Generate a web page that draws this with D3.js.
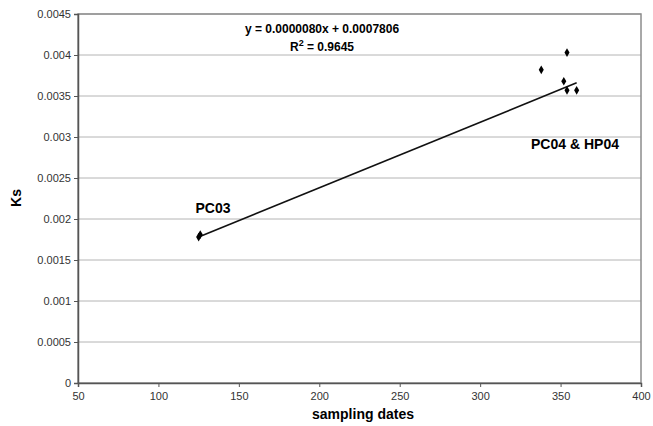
<!DOCTYPE html>
<html>
<head>
<meta charset="utf-8">
<script src="https://cdn.jsdelivr.net/npm/d3@7"></script>
<style>
  body { margin: 0; background: #fff; }
  text { font-family: "Liberation Sans", Arial, sans-serif; }
</style>
</head>
<body>
<svg id="chart" width="653" height="426"></svg>
<script>
// sampling date, Ks
var samplingDates = [125, 126, 338, 354, 352, 354, 360];
var ksValues = [0.00178, 0.00181, 0.00382, 0.00403, 0.00368, 0.00357, 0.00357];
var xTicks = [50, 100, 150, 200, 250, 300, 350, 400];
var yTicks = [0, 0.0005, 0.001, 0.0015, 0.002, 0.0025, 0.003, 0.0035, 0.004, 0.0045];
var slope = 0.0000080;
var intercept = 0.0007806;

var svg = d3.select('#chart');
var plotLeft = 78, plotRight = 641, plotTop = 14, plotBottom = 383;

var x = d3.scaleLinear().domain([50, 400]).range([plotLeft, plotRight]);
var y = d3.scaleLinear().domain([0, 0.0045]).range([plotBottom, plotTop]);

// grid lines
svg.selectAll('line.grid')
    .data(yTicks.slice(1))
    .enter().append('line')
    .attr('class', 'grid')
    .attr('x1', plotLeft).attr('x2', plotRight)
    .attr('y1', function (d) { return y(d); })
    .attr('y2', function (d) { return y(d); })
    .attr('stroke', '#b4b4b4')
    .attr('stroke-width', 1);

// plot frame
svg.append('rect')
    .attr('x', plotLeft).attr('y', plotTop)
    .attr('width', plotRight - plotLeft).attr('height', plotBottom - plotTop)
    .attr('fill', 'none')
    .attr('stroke', '#8c8c8c')
    .attr('stroke-width', 1.5);

var xAxis = svg.append('g')
    .attr('transform', 'translate(0,' + plotBottom + ')')
    .call(d3.axisBottom(x).tickValues(xTicks).tickSize(4).tickFormat(d3.format('d')));
var yAxis = svg.append('g')
    .attr('transform', 'translate(' + plotLeft + ',0)')
    .call(d3.axisLeft(y).tickValues(yTicks).tickSize(4).tickFormat(function (d) { return d === 0 ? '0' : String(+d.toFixed(4)); }));

[xAxis, yAxis].forEach(function (g) {
    g.select('.domain').attr('stroke', '#555').attr('stroke-width', 1.5);
    g.selectAll('.tick line').attr('stroke', '#555');
    g.selectAll('.tick text')
        .attr('fill', '#333')
        .style('font-size', '11px')
        .style('font-family', '"Liberation Sans", Arial, sans-serif');
});
xAxis.selectAll('.tick text').attr('dy', '0.95em');

// regression line
var xMin = d3.min(samplingDates), xMax = d3.max(samplingDates);
svg.append('line')
    .attr('x1', x(xMin)).attr('y1', y(slope * xMin + intercept))
    .attr('x2', x(xMax)).attr('y2', y(slope * xMax + intercept))
    .attr('stroke', '#111')
    .attr('stroke-width', 1.6);

// data points (diamonds)
svg.selectAll('path.pt')
    .data(samplingDates)
    .enter().append('path')
    .attr('class', 'pt')
    .attr('transform', function (d, i) { return 'translate(' + x(d) + ',' + y(ksValues[i]) + ')'; })
    .attr('d', d3.symbol().type(d3.symbolDiamond).size(22))
    .attr('fill', '#000');

// equation
svg.append('text')
    .attr('x', 322).attr('y', 33)
    .attr('text-anchor', 'middle')
    .style('font-size', '12px').style('font-weight', 'bold')
    .text('y = 0.0000080x + 0.0007806');
var r2 = svg.append('text')
    .attr('x', 322).attr('y', 51)
    .attr('text-anchor', 'middle')
    .style('font-size', '12px').style('font-weight', 'bold');
r2.append('tspan').text('R');
r2.append('tspan').attr('dy', -5).style('font-size', '9px').text('2');
r2.append('tspan').attr('dy', 5).text(' = 0.9645');

// labels
svg.append('text')
    .attr('x', 213).attr('y', 213)
    .attr('text-anchor', 'middle')
    .style('font-size', '14px').style('font-weight', 'bold')
    .text('PC03');
svg.append('text')
    .attr('x', 575).attr('y', 149)
    .attr('text-anchor', 'middle')
    .style('font-size', '14px').style('font-weight', 'bold')
    .text('PC04 & HP04');

// axis titles
svg.append('text')
    .attr('x', 363).attr('y', 419)
    .attr('text-anchor', 'middle')
    .style('font-size', '14px').style('font-weight', 'bold')
    .text('sampling dates');
svg.append('text')
    .attr('transform', 'translate(21,198) rotate(-90)')
    .attr('text-anchor', 'middle')
    .style('font-size', '14px').style('font-weight', 'bold')
    .text('Ks');
</script>
</body>
</html>
